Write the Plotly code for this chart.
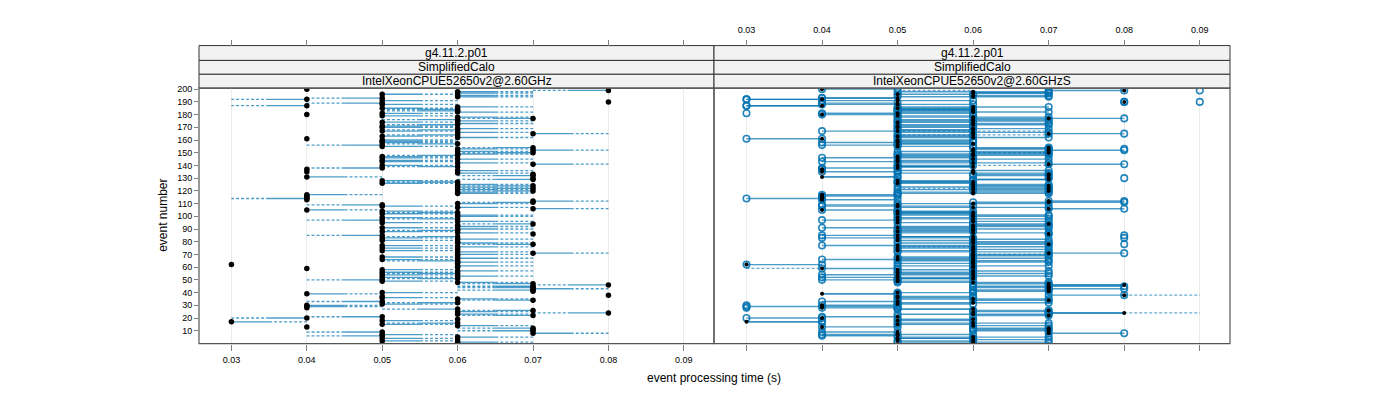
import plotly.graph_objects as go

# ---------------- data (times in milliseconds) ----------------
events = list(range(1, 201))

# black dots: time per event on IntelXeonCPUE52650v2@2.60GHz
ghz_ms = [
    60, 50, 60, 50, 60, 50, 50, 70, 50, 70,
    70, 70, 40, 60, 50, 60, 30, 50, 60, 40,
    50, 70, 60, 80, 60, 70, 60, 40, 40, 40,
    50, 60, 50, 70, 60, 50, 50, 80, 40, 50,
    70, 70, 70, 70, 70, 80, 70, 60, 50, 50,
    60, 50, 60, 50, 60, 50, 60, 50, 40, 60,
    60, 30, 60, 60, 60, 50, 60, 50, 60, 60,
    70, 60, 50, 60, 50, 60, 50, 70, 60, 60,
    50, 60, 50, 60, 50, 70, 60, 50, 60, 60,
    50, 60, 60, 70, 50, 60, 50, 60, 50, 60,
    60, 50, 60, 50, 40, 70, 60, 50, 50, 60,
    70, 70, 40, 40, 40, 40, 40, 60, 60, 70,
    60, 70, 60, 70, 60, 50, 60, 50, 70, 70,
    40, 70, 70, 60, 40, 60, 40, 50, 60, 50,
    70, 60, 50, 50, 60, 50, 50, 60, 60, 70,
    60, 70, 60, 70, 50, 50, 60, 50, 50, 50,
    40, 60, 50, 60, 70, 60, 50, 60, 60, 50,
    50, 60, 60, 50, 60, 60, 70, 60, 50, 40,
    50, 60, 60, 60, 50, 60, 40, 50, 50, 80,
    50, 40, 50, 60, 60, 50, 60, 60, 80, 40,
]

# blue circles, first run on IntelXeonCPUE52650v2@2.60GHzS
ghzs_ms = [
    70, 60, 60, 60, 70, 40, 60, 80, 40, 60,
    70, 60, 40, 70, 60, 50, 40, 60, 60, 30,
    40, 60, 70, 70, 70, 60, 50, 40, 50, 50,
    60, 50, 40, 60, 70, 60, 50, 80, 50, 60,
    70, 60, 80, 60, 60, 70, 60, 70, 60, 40,
    50, 60, 70, 60, 50, 60, 70, 60, 40, 60,
    70, 30, 60, 70, 50, 60, 70, 60, 60, 70,
    80, 70, 60, 60, 60, 70, 60, 60, 70, 60,
    60, 70, 60, 50, 40, 70, 70, 60, 50, 70,
    60, 70, 60, 60, 60, 70, 40, 50, 60, 70,
    70, 60, 50, 60, 50, 80, 70, 60, 40, 70,
    60, 80, 40, 30, 40, 40, 50, 70, 70, 60,
    70, 60, 70, 60, 70, 60, 50, 60, 60, 70,
    50, 60, 70, 70, 40, 70, 40, 40, 50, 60,
    80, 70, 60, 60, 70, 60, 60, 50, 70, 60,
    70, 80, 70, 60, 60, 40, 50, 60, 60, 60,
    40, 70, 60, 50, 80, 70, 60, 50, 70, 60,
    60, 50, 70, 60, 70, 50, 60, 70, 60, 40,
    60, 70, 50, 50, 60, 70, 30, 60, 40, 80,
    60, 30, 40, 70, 70, 60, 70, 70, 70, 40,
]

# blue circles, second run on IntelXeonCPUE52650v2@2.60GHzS
ghzs2_ms = [
    50, 50, 70, 60, 50, 50, 40, 70, 50, 70,
    60, 70, 50, 60, 50, 70, 40, 50, 50, 40,
    50, 70, 50, 70, 60, 70, 50, 50, 30, 40,
    50, 70, 50, 70, 50, 50, 60, 70, 50, 50,
    60, 70, 70, 70, 80, 70, 70, 50, 50, 50,
    50, 40, 60, 40, 70, 50, 60, 50, 50, 60,
    50, 40, 50, 60, 70, 40, 50, 50, 70, 60,
    70, 50, 50, 70, 50, 50, 40, 70, 50, 70,
    50, 60, 40, 50, 50, 70, 50, 50, 60, 50,
    40, 50, 70, 70, 50, 60, 50, 70, 50, 60,
    50, 50, 50, 50, 40, 70, 50, 40, 50, 50,
    80, 70, 50, 40, 40, 50, 40, 50, 50, 70,
    50, 70, 50, 70, 60, 50, 50, 50, 60, 70,
    50, 70, 60, 50, 50, 50, 40, 50, 50, 50,
    70, 50, 40, 50, 60, 40, 50, 70, 50, 70,
    50, 70, 70, 70, 50, 50, 50, 40, 50, 50,
    30, 50, 50, 60, 70, 50, 40, 50, 60, 50,
    50, 70, 60, 50, 50, 70, 80, 50, 50, 50,
    40, 50, 60, 50, 50, 50, 30, 40, 50, 80,
    40, 30, 40, 50, 60, 50, 70, 50, 80, 50,
]

# additional single observations on the GHzS panel
extra_circle_events = [199, 190, 181, 30, 28, 153, 130, 83, 78, 85]
extra_circle_ms = [90, 90, 30, 30, 30, 80, 80, 80, 80, 80]

extra_dash_events = [38, 24, 59, 167, 164, 150, 140, 122, 76, 70, 199, 184]
extra_dash_from_ms = [80, 80, 30, 50, 50, 60, 60, 50, 50, 60, 50, 50]
extra_dash_to_ms = [90, 90, 40, 70, 70, 70, 70, 60, 60, 70, 60, 60]

x_ticks = [0.03, 0.04, 0.05, 0.06, 0.07, 0.08, 0.09]
x_tick_text = ["0.03", "0.04", "0.05", "0.06", "0.07", "0.08", "0.09"]
y_ticks = list(range(10, 201, 10))

strip_rows = ["g4.11.2.p01", "SimplifiedCalo"]
panel_names = ["IntelXeonCPUE52650v2@2.60GHz", "IntelXeonCPUE52650v2@2.60GHzS"]

# ---------------- styling ----------------
BLUE = "rgb(0,114,178)"
LINE_BLUE = "rgba(0,114,178,0.7)"
FONT = "Liberation Sans, Arial, sans-serif"
XR = [0.0257, 0.0940]
YR = [-0.1, 200.8]

PX_W, PX_H = 1400, 400
def fx(px):
    return px / PX_W
def fy(py):
    return 1 - py / PX_H

left_dom = [fx(199), fx(714)]
right_dom = [fx(714), fx(1230)]
y_dom = [fy(343), fy(85)]

fig = go.Figure()

# ----- left panel segments: solid near the dot, dashed toward the other run -----
sx, sy, dx, dy = [], [], [], []
for e, a, b in zip(events, ghz_ms, ghzs_ms):
    if a != b:
        a_s, b_s = a / 1000, b / 1000
        m = (a_s + b_s) / 2
        sx += [a_s, m, None]; sy += [e, e, None]
        dx += [m, b_s, None]; dy += [e, e, None]

fig.add_trace(go.Scatter(x=sx, y=sy, mode="lines", line=dict(color=LINE_BLUE, width=1.3),
                         xaxis="x", yaxis="y", hoverinfo="skip", showlegend=False))
fig.add_trace(go.Scatter(x=dx, y=dy, mode="lines",
                         line=dict(color=LINE_BLUE, width=1.3, dash="3px,2px"),
                         xaxis="x", yaxis="y", hoverinfo="skip", showlegend=False))
fig.add_trace(go.Scatter(x=[t / 1000 for t in ghz_ms], y=events, mode="markers",
                         marker=dict(color="black", size=5.5),
                         xaxis="x", yaxis="y", hoverinfo="skip", showlegend=False))

# ----- right panel -----
rx, ry = [], []
for run in (ghzs_ms, ghzs2_ms):
    for e, a, b in zip(events, ghz_ms, run):
        if a != b:
            rx += [a / 1000, b / 1000, None]; ry += [e, e, None]
rdx, rdy = [], []
for e, a, b in zip(extra_dash_events, extra_dash_from_ms, extra_dash_to_ms):
    rdx += [a / 1000, b / 1000, None]; rdy += [e, e, None]

fig.add_trace(go.Scatter(x=rdx, y=rdy, mode="lines",
                         line=dict(color="rgba(0,114,178,0.6)", width=1.3, dash="3px,2px"),
                         xaxis="x2", yaxis="y2", hoverinfo="skip", showlegend=False))
fig.add_trace(go.Scatter(x=rx, y=ry, mode="lines", line=dict(color=LINE_BLUE, width=1.4),
                         xaxis="x2", yaxis="y2", hoverinfo="skip", showlegend=False))
circ_x = ([t / 1000 for t in ghzs_ms] + [t / 1000 for t in ghzs2_ms]
          + [t / 1000 for t in extra_circle_ms])
circ_y = events + events + extra_circle_events
fig.add_trace(go.Scatter(x=circ_x, y=circ_y, mode="markers",
                         marker=dict(symbol="circle-open", color=BLUE, size=6.5,
                                     line=dict(width=1.6, color=BLUE), opacity=0.85),
                         xaxis="x2", yaxis="y2", hoverinfo="skip", showlegend=False))
fig.add_trace(go.Scatter(x=[t / 1000 for t in ghz_ms], y=events, mode="markers",
                         marker=dict(color="black", size=4),
                         xaxis="x2", yaxis="y2", hoverinfo="skip", showlegend=False))

# dummy traces so the top tick axes are drawn
fig.add_trace(go.Scatter(x=[0.05], y=[100], mode="markers", marker=dict(opacity=0),
                         xaxis="x3", yaxis="y", hoverinfo="skip", showlegend=False))
fig.add_trace(go.Scatter(x=[0.05], y=[100], mode="markers", marker=dict(opacity=0),
                         xaxis="x4", yaxis="y2", hoverinfo="skip", showlegend=False))

tickfont = dict(family=FONT, size=9, color="black")
common_x = dict(range=XR, tickvals=x_ticks, ticktext=x_tick_text, ticks="outside",
                ticklen=6, tickcolor="#808080", tickwidth=1, showline=False,
                zeroline=False, tickfont=tickfont)

fig.update_layout(
    width=PX_W, height=PX_H, autosize=False,
    margin=dict(l=0, r=0, t=0, b=0),
    paper_bgcolor="white", plot_bgcolor="white",
    font=dict(family=FONT, color="black"),
    xaxis=dict(domain=left_dom, anchor="y", showgrid=True, gridcolor="#ebebeb",
               gridwidth=1, ticklabelstandoff=2, **common_x),
    xaxis2=dict(domain=right_dom, anchor="y2", showgrid=True, gridcolor="#ebebeb",
                gridwidth=1, showticklabels=False, **common_x),
    xaxis3=dict(overlaying="x", side="top", anchor="free", position=fy(42),
                showgrid=False, showticklabels=False, **common_x),
    xaxis4=dict(overlaying="x2", side="top", anchor="free", position=fy(42),
                showgrid=False, showticklabels=True, ticklabelstandoff=3, **common_x),
    yaxis=dict(domain=y_dom, anchor="x", range=YR, tickvals=y_ticks, ticks="outside",
               ticklen=4, tickcolor="#808080", showgrid=False, zeroline=False,
               showline=False, tickfont=tickfont),
    yaxis2=dict(domain=y_dom, anchor="x2", range=YR, showticklabels=False, ticks="",
                showgrid=False, zeroline=False, showline=False),
)

shapes = []
annotations = []
strip_edges = [42, 57, 71, 85]
for dom, pname in zip([left_dom, right_dom], panel_names):
    labels = strip_rows + [pname]
    for i, lab in enumerate(labels):
        y_top, y_bot = strip_edges[i], strip_edges[i + 1]
        shapes.append(dict(type="rect", xref="paper", yref="paper",
                           x0=dom[0], x1=dom[1], y0=fy(y_bot), y1=fy(y_top),
                           fillcolor="#f2f2f2", line=dict(color="#333333", width=1),
                           layer="below"))
        annotations.append(dict(text=lab, xref="paper", yref="paper",
                                x=(dom[0] + dom[1]) / 2, y=fy((y_top + y_bot) / 2),
                                showarrow=False, xanchor="center", yanchor="middle",
                                font=dict(family=FONT, size=12, color="black")))
    shapes.append(dict(type="rect", xref="paper", yref="paper",
                       x0=dom[0], x1=dom[1], y0=y_dom[0], y1=y_dom[1],
                       line=dict(color="#555555", width=1.2), fillcolor="rgba(0,0,0,0)",
                       layer="above"))

annotations.append(dict(text="event processing time (s)", xref="paper", yref="paper",
                        x=fx(714), y=fy(378), showarrow=False, xanchor="center",
                        yanchor="middle", font=dict(family=FONT, size=12, color="black")))
annotations.append(dict(text="event number", xref="paper", yref="paper",
                        x=fx(163), y=fy(214), showarrow=False, textangle=-90,
                        xanchor="center", yanchor="middle",
                        font=dict(family=FONT, size=12, color="black")))

fig.update_layout(shapes=shapes, annotations=annotations)

fig.write_html("out.html", config={"displayModeBar": False},
               post_script="document.body.style.margin='0px';document.body.style.padding='0px';")
